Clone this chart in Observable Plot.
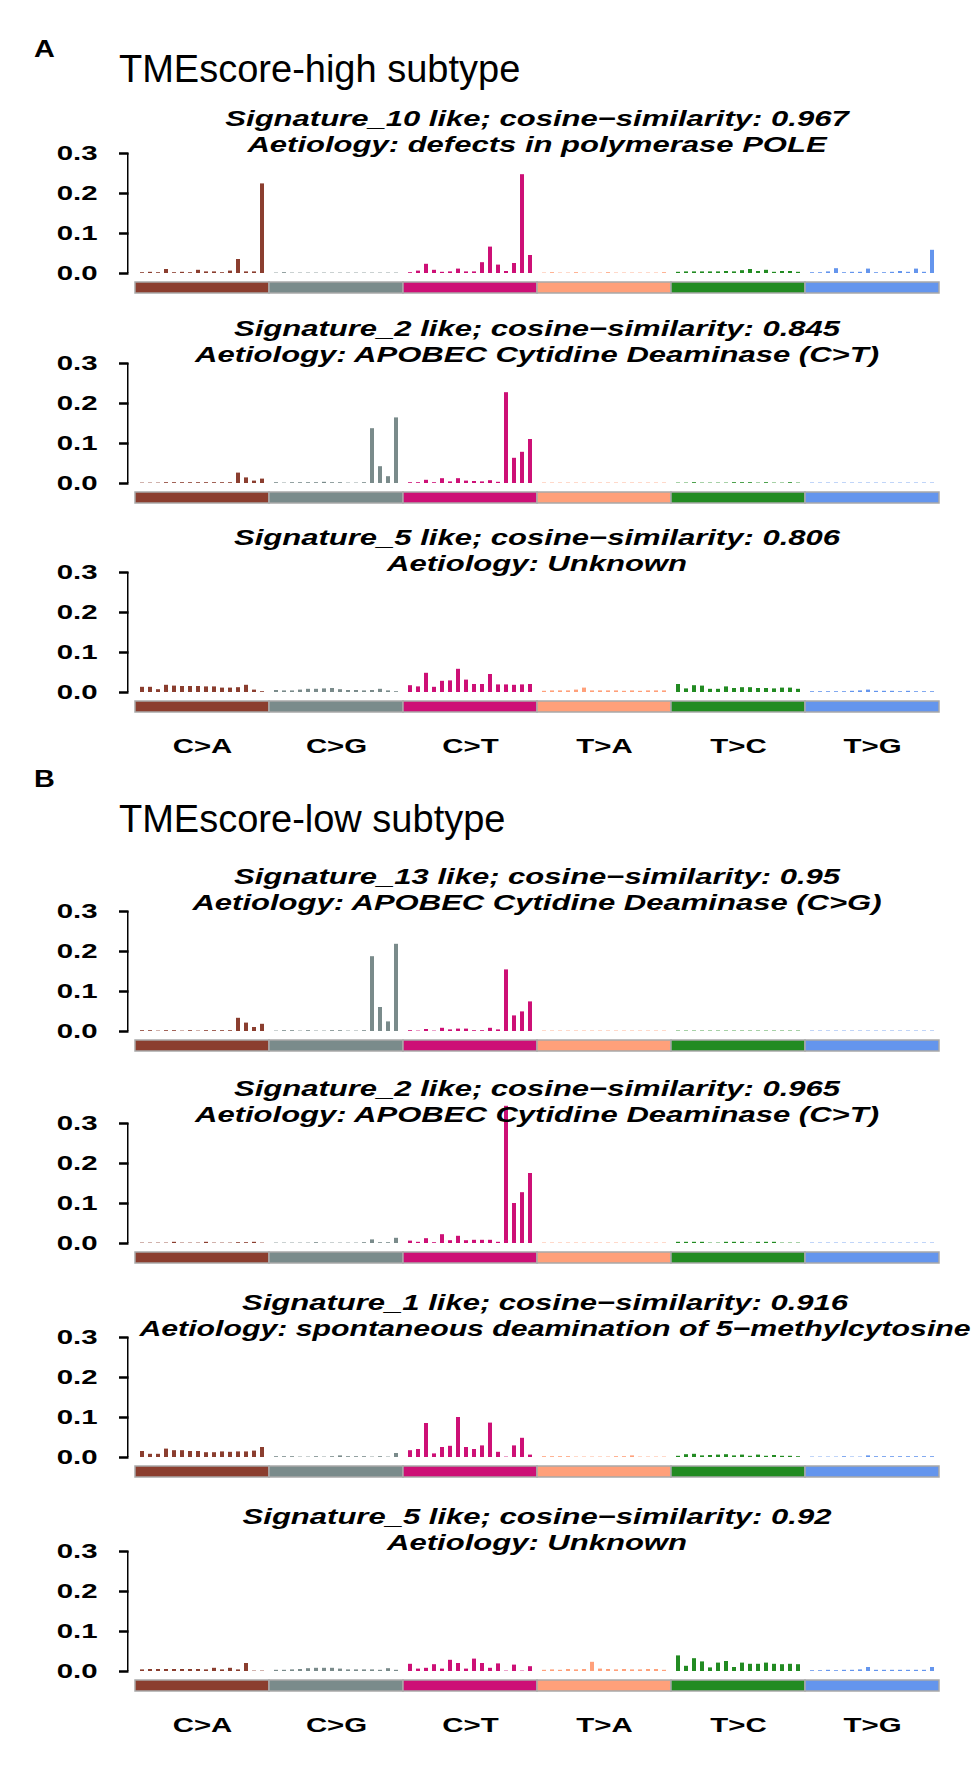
<!DOCTYPE html>
<html><head><meta charset="utf-8">
<script src="https://cdn.jsdelivr.net/npm/d3@7"></script>
<script src="https://cdn.jsdelivr.net/npm/@observablehq/plot@0.6"></script>
<style>
html,body{margin:0;padding:0;background:#fff;overflow:hidden;}
#page{position:relative;width:975px;height:1771px;font-family:"Liberation Sans",Arial,sans-serif;color:#000;}
.abs{position:absolute;white-space:nowrap;line-height:1;}
.sec{font-size:24px;font-weight:bold;transform:scaleX(1.2);transform-origin:0 50%;}
.head{font-size:38px;}
.sig{font-size:22px;font-weight:bold;font-style:italic;}
svg.panel{position:absolute;left:0;}
</style></head><body><div id="page"></div>
<script>
// ---------- categories ----------
const groups = ["C>A", "C>G", "C>T", "T>A", "T>C", "T>G"];
const groupColors = ["#8B3E2F", "#7A8B8B", "#CD1076", "#FFA07A", "#228B22", "#6495ED"];
const flanks = ["A.A","A.C","A.G","A.T","C.A","C.C","C.G","C.T","G.A","G.C","G.G","G.T","T.A","T.C","T.G","T.T"];
const yTicks = [0, 0.1, 0.2, 0.3];

// ---------- section headings ----------
const sectionLetters = ["A", "B"];
const sectionTitles = ["TMEscore-high subtype", "TMEscore-low subtype"];

// ---------- panel titles ----------
const signatureTitles = [
  "Signature_10 like; cosine\u2212similarity: 0.967",
  "Signature_2 like; cosine\u2212similarity: 0.845",
  "Signature_5 like; cosine\u2212similarity: 0.806",
  "Signature_13 like; cosine\u2212similarity: 0.95",
  "Signature_2 like; cosine\u2212similarity: 0.965",
  "Signature_1 like; cosine\u2212similarity: 0.916",
  "Signature_5 like; cosine\u2212similarity: 0.92"
];
const aetiologies = [
  "Aetiology: defects in polymerase POLE",
  "Aetiology: APOBEC Cytidine Deaminase (C>T)",
  "Aetiology: Unknown",
  "Aetiology: APOBEC Cytidine Deaminase (C>G)",
  "Aetiology: APOBEC Cytidine Deaminase (C>T)",
  "Aetiology: spontaneous deamination of 5\u2212methylcytosine",
  "Aetiology: Unknown"
];

// ---------- values (96 contexts: C>A, C>G, C>T, T>A, T>C, T>G x 16) ----------
const highSig10 = [
  0.002,0.003,0.002,0.010,0.002,0.003,0.002,0.008,0.004,0.004,0.002,0.006,0.035,0.004,0.004,0.224,
  0.001,0.002,0.001,0.001,0.001,0.001,0.001,0.001,0.001,0.001,0.001,0.001,0.001,0.001,0.001,0.001,
  0.002,0.006,0.023,0.008,0.003,0.004,0.011,0.004,0.004,0.027,0.066,0.021,0.005,0.025,0.247,0.045,
  0.001,0.002,0.001,0.001,0.002,0.001,0.001,0.001,0.002,0.001,0.001,0.001,0.001,0.001,0.001,0.002,
  0.003,0.004,0.004,0.004,0.004,0.004,0.005,0.004,0.007,0.010,0.005,0.008,0.003,0.005,0.005,0.003,
  0.002,0.002,0.004,0.012,0.002,0.003,0.003,0.011,0.002,0.002,0.003,0.005,0.003,0.011,0.003,0.058
];
const highSig2 = [
  0.001,0.001,0.001,0.002,0.002,0.002,0.002,0.002,0.002,0.002,0.002,0.002,0.026,0.014,0.006,0.011,
  0.002,0.001,0.002,0.002,0.002,0.002,0.003,0.002,0.002,0.001,0.001,0.002,0.137,0.042,0.017,0.164,
  0.002,0.002,0.008,0.002,0.012,0.004,0.012,0.006,0.005,0.004,0.007,0.003,0.227,0.063,0.078,0.110,
  0.001,0.001,0.001,0.001,0.001,0.001,0.001,0.001,0.001,0.001,0.001,0.001,0.001,0.001,0.001,0.001,
  0.001,0.001,0.002,0.001,0.001,0.001,0.001,0.002,0.002,0.002,0.001,0.002,0.001,0.001,0.002,0.001,
  0.001,0.001,0.001,0.001,0.001,0.001,0.001,0.001,0.001,0.001,0.001,0.001,0.001,0.001,0.001,0.001
];
const highSig5 = [
  0.013,0.013,0.007,0.018,0.016,0.015,0.015,0.015,0.014,0.014,0.011,0.011,0.012,0.018,0.006,0.002,
  0.005,0.004,0.004,0.006,0.008,0.008,0.009,0.010,0.007,0.005,0.005,0.004,0.005,0.008,0.004,0.002,
  0.017,0.014,0.048,0.013,0.028,0.029,0.058,0.031,0.020,0.020,0.045,0.019,0.019,0.018,0.019,0.020,
  0.003,0.004,0.004,0.004,0.006,0.011,0.004,0.004,0.004,0.004,0.003,0.004,0.003,0.004,0.004,0.004,
  0.020,0.009,0.017,0.016,0.008,0.008,0.014,0.010,0.012,0.012,0.010,0.010,0.009,0.011,0.011,0.008,
  0.002,0.002,0.002,0.002,0.002,0.003,0.004,0.006,0.003,0.003,0.003,0.002,0.003,0.002,0.002,0.002
];
const lowSig13 = [
  0.002,0.002,0.001,0.002,0.002,0.001,0.002,0.001,0.002,0.002,0.002,0.002,0.033,0.021,0.010,0.018,
  0.001,0.002,0.002,0.001,0.002,0.001,0.001,0.002,0.002,0.001,0.001,0.002,0.187,0.060,0.024,0.218,
  0.002,0.001,0.005,0.001,0.008,0.004,0.006,0.006,0.002,0.002,0.008,0.004,0.154,0.039,0.049,0.074,
  0.001,0.001,0.001,0.001,0.001,0.001,0.001,0.001,0.001,0.001,0.001,0.001,0.001,0.001,0.001,0.001,
  0.001,0.001,0.001,0.001,0.001,0.001,0.001,0.001,0.001,0.001,0.001,0.001,0.001,0.001,0.001,0.001,
  0.001,0.001,0.001,0.001,0.001,0.001,0.001,0.001,0.001,0.001,0.001,0.001,0.001,0.001,0.001,0.001
];
const lowSig2 = [
  0.001,0.001,0.001,0.001,0.003,0.001,0.001,0.001,0.003,0.001,0.001,0.001,0.002,0.002,0.003,0.001,
  0.001,0.001,0.001,0.001,0.001,0.002,0.001,0.001,0.001,0.001,0.001,0.002,0.009,0.002,0.002,0.013,
  0.006,0.003,0.012,0.002,0.022,0.007,0.018,0.007,0.008,0.008,0.008,0.003,0.343,0.100,0.127,0.175,
  0.001,0.001,0.001,0.001,0.001,0.001,0.001,0.001,0.001,0.001,0.001,0.001,0.001,0.001,0.001,0.001,
  0.003,0.003,0.003,0.003,0.001,0.001,0.003,0.003,0.003,0.001,0.003,0.003,0.003,0.001,0.001,0.001,
  0.001,0.001,0.001,0.001,0.001,0.001,0.001,0.001,0.001,0.001,0.001,0.001,0.001,0.001,0.001,0.001
];
const lowSig1 = [
  0.015,0.008,0.008,0.021,0.017,0.017,0.015,0.015,0.012,0.012,0.014,0.013,0.014,0.014,0.016,0.025,
  0.002,0.002,0.002,0.001,0.001,0.002,0.001,0.002,0.004,0.002,0.002,0.002,0.001,0.002,0.001,0.010,
  0.017,0.020,0.085,0.009,0.025,0.028,0.100,0.025,0.020,0.029,0.086,0.013,0.001,0.029,0.048,0.006,
  0.002,0.002,0.002,0.002,0.001,0.001,0.001,0.001,0.001,0.002,0.002,0.004,0.001,0.001,0.001,0.001,
  0.003,0.007,0.008,0.004,0.005,0.006,0.007,0.004,0.006,0.003,0.006,0.003,0.005,0.003,0.003,0.002,
  0.001,0.001,0.001,0.001,0.002,0.001,0.001,0.004,0.002,0.002,0.002,0.002,0.002,0.002,0.002,0.002
];
const lowSig5 = [
  0.004,0.005,0.005,0.005,0.005,0.005,0.005,0.005,0.004,0.008,0.004,0.008,0.004,0.020,0.001,0.001,
  0.003,0.003,0.004,0.005,0.007,0.008,0.008,0.008,0.006,0.004,0.004,0.004,0.004,0.003,0.007,0.003,
  0.018,0.006,0.008,0.017,0.006,0.028,0.020,0.006,0.031,0.020,0.008,0.019,0.001,0.016,0.001,0.012,
  0.003,0.004,0.003,0.005,0.004,0.005,0.023,0.006,0.005,0.004,0.005,0.004,0.004,0.005,0.005,0.003,
  0.039,0.013,0.032,0.024,0.009,0.021,0.025,0.010,0.021,0.018,0.018,0.021,0.018,0.017,0.018,0.017,
  0.002,0.002,0.003,0.002,0.003,0.003,0.004,0.010,0.003,0.003,0.003,0.003,0.003,0.003,0.003,0.010
];
const panelValues = [highSig10, highSig2, highSig5, lowSig13, lowSig2, lowSig1, lowSig5];
const panelHasLabels = [false, false, true, false, false, false, true];

// ---------- layout (pixels) ----------
const panelBaselines = [273, 483, 692, 1031, 1243, 1457, 1671];
const titleShift = [[0, 0], [0, 0], [0, 0], [0, 0], [0, 0], [8, 18], [0, 0]];
const titleStretch = [[1.41, 1.41], [1.41, 1.41], [1.41, 1.41], [1.41, 1.41], [1.41, 1.41], [1.41, 1.375], [1.41, 1.41]];
const sectionTitleBaselines = [82, 832];
const sectionLetterBaselines = [57, 787];
const plotLeft = 133, plotRight = 940, plotH = 120, mTop = 40;
const facetW = (plotRight - plotLeft) / groups.length;

const page = document.getElementById("page");
const FONT = "Liberation Sans, Arial, sans-serif";

function addDiv(cls, text, left, baseline, size) {
  const d = document.createElement("div");
  d.className = "abs " + cls;
  d.textContent = text;
  d.style.left = left + "px";
  d.style.top = (baseline - 0.8465 * size) + "px";
  page.appendChild(d);
  return d;
}

function stretch(nodes, k) {
  nodes.each(function () {
    const w = this.getComputedTextLength();
    this.setAttribute("textLength", w * k);
    this.setAttribute("lengthAdjust", "spacingAndGlyphs");
  });
}

const firstFacet = () => groups[0];

panelValues.forEach((values, p) => {
  const data = values.map((v, i) => ({group: groups[Math.floor(i / 16)], flank: flanks[i % 16], value: v}));
  const mBottom = panelHasLabels[p] ? 82 : 26;
  const svg = Plot.plot({
    width: 975,
    height: mTop + plotH + mBottom,
    marginLeft: plotLeft,
    marginRight: 975 - plotRight,
    marginTop: mTop,
    marginBottom: mBottom,
    style: {fontFamily: FONT, background: "transparent", overflow: "visible"},
    fx: {domain: groups, padding: 0, axis: null},
    x: {domain: flanks, paddingInner: 0.5, paddingOuter: 0.25, axis: null},
    y: {domain: [0, 0.3], axis: null},
    color: {domain: groups, range: groupColors},
    marks: [
      // colour strip under each mutation class
      Plot.rect(groups, {fx: (d) => d, fill: (d) => d, stroke: "#a9a9a9", strokeWidth: 1.5, insetTop: plotH + 9, insetBottom: -20}),
      // bars
      Plot.barY(data, {fx: "group", x: "flank", y: "value", fill: "group"}),
      // y axis line (left of first facet)
      Plot.rect([yTicks], {fx: firstFacet, y1: (d) => d[0], y2: (d) => d[d.length - 1], fill: "#000", insetLeft: -8, insetRight: facetW + 6}),
      // y ticks
      Plot.ruleY(yTicks, {fx: firstFacet, y: (d) => d, stroke: "#000", strokeWidth: 2.5, insetLeft: -16, insetRight: facetW + 6}),
      // y tick labels
      Plot.text(yTicks, {fx: firstFacet, y: (d) => d, text: (d) => d.toFixed(1), frameAnchor: "left", textAnchor: "end", dx: -38, fontSize: 21, fontWeight: "bold", fill: "#000"}),
      // class labels
      panelHasLabels[p] ? Plot.text(groups, {fx: (d) => d, text: (d) => d, frameAnchor: "bottom", dy: 60, fontSize: 21, fontWeight: "bold", fill: "#000"}) : null
    ]
  });
  svg.classList.add("panel");
  svg.style.top = (panelBaselines[p] - plotH - mTop) + "px";
  page.appendChild(svg);
  stretch(d3.select(svg).selectAll('[aria-label="text"] text'), 1.4);

  const cx = (plotLeft + plotRight) / 2;
  const lines = [signatureTitles[p], aetiologies[p]];
  const offsets = [146, 120];
  lines.forEach((t, j) => {
    const d = addDiv("sig", t, cx + titleShift[p][j], panelBaselines[p] - offsets[j], 22);
    d.style.transform = `translateX(-50%) scaleX(${titleStretch[p][j]})`;
  });
});

sectionLetters.forEach((letter, k) => {
  addDiv("sec", letter, 34, sectionLetterBaselines[k], 24);
  addDiv("head", sectionTitles[k], 119, sectionTitleBaselines[k], 38);
});
</script></body></html>
